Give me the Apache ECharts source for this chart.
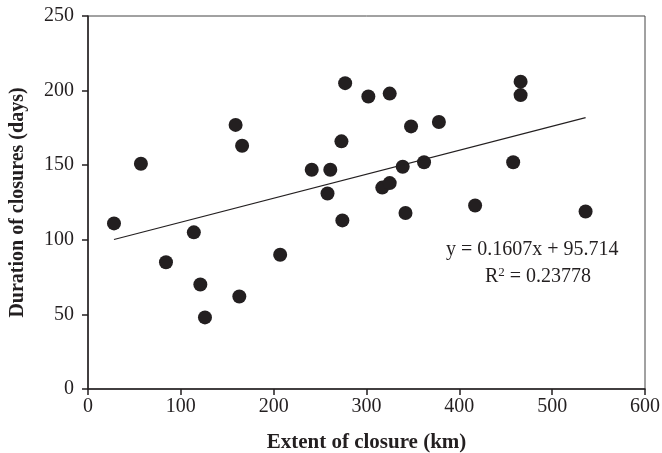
<!DOCTYPE html>
<html>
<head>
<meta charset="utf-8">
<script src="https://cdn.jsdelivr.net/npm/echarts@6/dist/echarts.min.js"></script>
<style>
  html, body { margin: 0; padding: 0; background: #fff; }
  #chart { width: 662px; height: 453px; }
</style>
</head>
<body>
<div id="chart"></div>
<script>
// extent of closure (km) and duration (days)
var extentKm = [28, 57, 84, 114, 121, 126, 159, 163, 166, 207, 241, 258, 261,
                273, 274, 277, 302, 317, 325, 325, 339, 342, 348, 362, 378, 417, 458,
                466, 466, 536];
var durationDays = [111, 151, 85, 105, 70, 48, 177, 62, 163, 90, 147, 131, 147,
                    166, 113, 205, 196, 135, 198, 138, 149, 118, 176, 152, 179, 123, 152,
                    197, 206, 119];
// linear fit shown in the figure
var slope = 0.1607;
var intercept = 95.714;
var fitRange = [28, 536];
var xTicks = { min: 0, max: 600, interval: 100 };
var yTicks = { min: 0, max: 250, interval: 50 };

var points = extentKm.map(function (x, i) { return [x, durationDays[i]]; });
var fitLine = fitRange.map(function (x) { return [x, slope * x + intercept]; });

var font = '"Liberation Serif", "Times New Roman", serif';
var ink = '#231f20';

var myChart = echarts.init(document.getElementById('chart'));
var option = {
    animation: false,
    backgroundColor: '#fff',
    grid: {
        left: 88, right: 17, top: 16, bottom: 64,
        outerBoundsMode: 'none',
        show: true, borderColor: '#444', borderWidth: 1
    },
    xAxis: {
        type: 'value',
        min: xTicks.min, max: xTicks.max, interval: xTicks.interval,
        name: 'Extent of closure (km)',
        nameLocation: 'middle', nameGap: 43,
        nameTextStyle: { fontFamily: font, fontSize: 21, fontWeight: 'bold', color: ink },
        axisLine: { lineStyle: { color: ink, width: 1.5 } },
        axisTick: { show: true, length: 6, lineStyle: { color: ink, width: 1.5 } },
        axisLabel: { fontFamily: font, fontSize: 20, color: ink, margin: 8 },
        splitLine: { show: false }
    },
    yAxis: {
        type: 'value',
        min: yTicks.min, max: yTicks.max, interval: yTicks.interval,
        name: 'Duration of closures (days)',
        nameLocation: 'middle', nameGap: 60,
        nameTextStyle: { fontFamily: font, fontSize: 20, fontWeight: 'bold', color: ink },
        axisLine: { show: true, lineStyle: { color: ink, width: 1.5 } },
        axisTick: { show: true, length: 6, lineStyle: { color: ink, width: 1.5 } },
        axisLabel: { fontFamily: font, fontSize: 20, color: ink, margin: 14 },
        splitLine: { show: false }
    },
    series: [
        {
            type: 'scatter',
            data: points,
            symbolSize: 14,
            itemStyle: { color: ink, opacity: 1 }
        },
        {
            type: 'line',
            data: fitLine,
            symbol: 'none',
            lineStyle: { color: ink, width: 1.2 }
        }
    ],
    graphic: [
        {
            type: 'text',
            left: 446, top: 240,
            style: {
                text: 'y = ' + slope + 'x + ' + intercept,
                font: '20px ' + font,
                fill: ink
            }
        },
        {
            type: 'text',
            left: 485, top: 266,
            style: {
                text: 'R{sup|2} = 0.23778',
                font: '20px ' + font,
                fill: ink,
                rich: {
                    sup: { fontFamily: font, fontSize: 13, verticalAlign: 'top', padding: [0, 0, 8, 0], fill: ink }
                }
            }
        }
    ]
};
myChart.setOption(option);
</script>
</body>
</html>
